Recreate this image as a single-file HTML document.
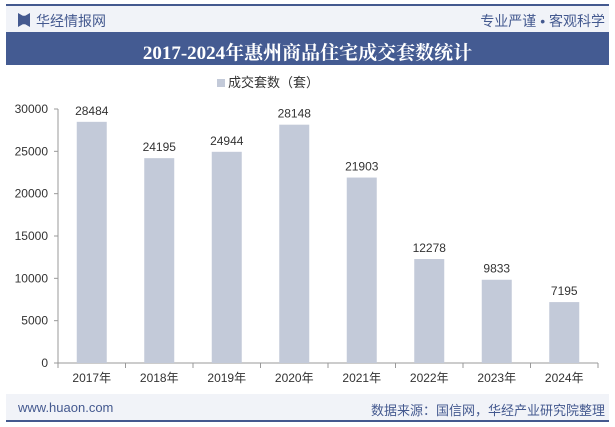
<!DOCTYPE html>
<html><head><meta charset="utf-8"><style>
body{margin:0;width:615px;height:427px;background:#fff;font-family:"Liberation Sans","Noto Sans CJK SC",sans-serif;position:relative;overflow:hidden}
.a{position:absolute}
</style></head><body>
<div class="a" style="left:6px;top:4px;width:603px;height:2px;background:#44598f"></div>
<div class="a" style="left:6px;top:6px;width:603px;height:26px;background:#f1f3f8"></div>
<div class="a" style="left:18px;top:13px;width:12px;height:14px;background:#44598f;clip-path:polygon(0 0,40% 20%,60% 20%,100% 0,100% 100%,60% 80%,40% 80%,0 100%)"></div>
<div class="a" style="left:36px;top:11px;font-size:14px;color:#44598f">华经情报网</div>
<div class="a" style="right:10px;top:11px;font-size:14px;color:#44598f">专业严谨 • 客观科学</div>
<div class="a" style="left:6px;top:32px;width:603px;height:33px;background:#445b92"></div>
<div class="a" style="left:6px;top:38px;width:603px;text-align:center;font-size:19px;font-weight:bold;color:#fff;font-family:'Liberation Serif','Noto Serif CJK SC',serif">2017-2024年惠州商品住宅成交套数统计</div>
<svg class="a" style="left:0;top:0" width="615" height="427" id="chart">
<rect x="217" y="79" width="8" height="8" fill="#c3cad9"/>
<text x="228" y="87" font-size="13" fill="#333">成交套数（套）</text>
</svg>
<div class="a" style="left:6px;top:394px;width:603px;height:26px;background:#f1f3f8"></div>
<div class="a" style="left:6px;top:420px;width:603px;height:2px;background:#44598f"></div>
<div class="a" style="left:18px;top:400px;font-size:13px;color:#44598f">www.huaon.com</div>
<div class="a" style="right:10px;top:400px;font-size:13px;color:#44598f">数据来源：国信网，华经产业研究院整理</div>
<script>
const categories=["2017年","2018年","2019年","2020年","2021年","2022年","2023年","2024年"];
const values=[28484,24195,24944,28148,21903,12278,9833,7195];
const ticks=[0,5000,10000,15000,20000,25000,30000];
const svg=document.getElementById('chart');const NS='http://www.w3.org/2000/svg';
const x0=58,x1=598,y0=363,yTop=109,maxV=30000;
const y=v=>y0-(v/maxV)*(y0-yTop);
const bw=(x1-x0)/categories.length;
const xc=i=>x0+bw*(i+0.5);
function mk(t,a){const e=document.createElementNS(NS,t);for(const k in a)e.setAttribute(k,a[k]);svg.appendChild(e);return e;}
ticks.forEach(t=>{
 const tx=mk('text',{x:48,y:y(t)+4,'text-anchor':'end','font-size':12,fill:'#333'});tx.textContent=t;
 
 
 const l=mk('line',{x1:x0-4,x2:x0,y1:y(t),y2:y(t),stroke:'#999'});
 
 
});
const ya=mk('line',{x1:x0,x2:x0,y1:yTop,y2:y0,stroke:'#999'});


const xa=mk('line',{x1:x0,x2:x1,y1:y0,y2:y0,stroke:'#999'});


categories.forEach((c,i)=>{
 const r=mk('rect',{x:xc(i)-15,y:y(values[i]),width:30,height:y0-y(values[i]),fill:'#c3cad9'});
 
 
 const v=mk('text',{x:xc(i),y:y(values[i])-7,'text-anchor':'middle','font-size':12,fill:'#333'});v.textContent=values[i];
 
 
 const t=mk('text',{x:xc(i),y:y0+19,'text-anchor':'middle','font-size':12,fill:'#333'});t.textContent=c;
 
 
 const tk=mk('line',{x1:x0+bw*i,x2:x0+bw*i,y1:y0,y2:y0+5,stroke:'#999'});
 
 
});
const tk=mk('line',{x1:x1,x2:x1,y1:y0,y2:y0+5,stroke:'#999'});


</script>
</body></html>
